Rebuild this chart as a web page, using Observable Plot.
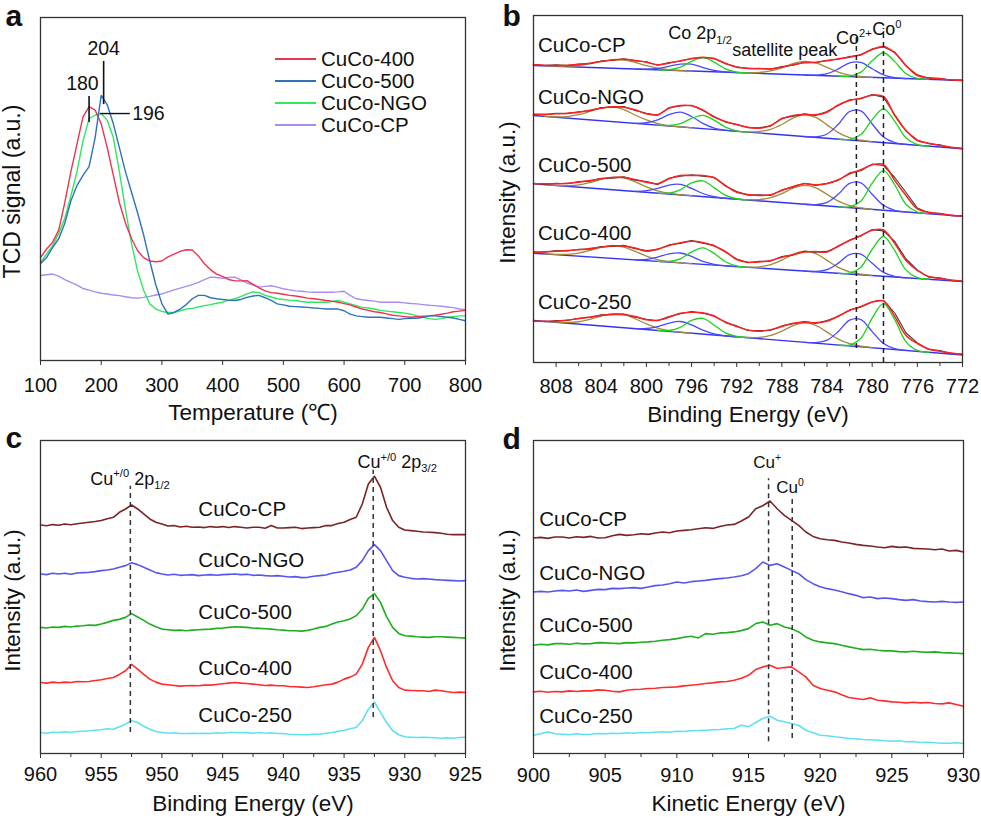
<!DOCTYPE html>
<html><head><meta charset="utf-8">
<script src="https://cdn.jsdelivr.net/npm/d3@7"></script>
<script src="https://cdn.jsdelivr.net/npm/@observablehq/plot@0.6"></script>
<style>
body{margin:0;background:#fff;overflow:hidden;}
#fig{position:relative;width:981px;height:820px;font-family:'Liberation Sans',Arial,Helvetica,sans-serif;color:#111;}
#fig svg{position:absolute;}
.leg{position:absolute;font-size:20.5px;}
.leg div{height:21.8px;display:flex;align-items:center;}
.leg span.sw{display:inline-block;width:41px;height:2px;margin-right:5px;}
</style></head><body><div id="fig"></div>
<script>
// ---------------- Panel a: H2-TPR ----------------
const tempA = [100,110,120,130,140,150,160,170,180,190,200,210,220,230,240,250,260,270,280,290,300,310,320,330,340,350,360,370,380,390,400,410,420,430,440,450,460,470,480,490,500,510,520,530,540,550,560,570,580,590,600,610,620,630,640,650,660,670,680,690,700,710,720,730,740,750,760,770,780,790,800];
const seriesA = ["CuCo-400","CuCo-500","CuCo-NGO","CuCo-CP"];
const colorsA = ["#ee3352","#2f72b8","#2ee860","#a98cf0"];
const tcd400 = [30,32.5,34.5,38,46,55,63,71,74,73,69,62,54,46,40,35.5,32,30,29,28.8,29,30.2,31,31.8,32.3,32.2,30.5,28.2,26.5,25.2,24.5,23.6,23.2,23.2,23.3,22.2,21.2,20.3,19.8,19.6,19.3,19,18.8,18.5,18.2,18,17.8,17.5,17.3,17,16.6,16.2,15.6,15,14.6,14.2,14,13.6,13.2,13,12.8,12.6,12.8,12.9,13,13.2,13.5,13.8,14.2,14.4,14.6];
const tcd500 = [28.2,30,33,35.5,40,46.5,51,54,56.5,65,77.3,74.5,69,62,55,49,43,36.5,29,22,16.5,13.5,14,15,16.3,18,19,19,18.3,18,17.8,17.6,17.5,17.8,18.4,18.8,19,18.3,17.5,16.5,16.2,15.8,15.7,15.6,15.5,15.3,15.2,15,15,15,14.5,13.5,13,12.8,12.6,12.6,12.6,12.4,12.2,12,12.2,12.3,12.3,12.6,13,13,12.8,12.6,12.4,12,11.6];
const tcdNGO = [28.6,31,33.5,37,41.5,48,55,64,70.5,71.5,72,70,65,55,44,34,26,20.4,16.5,15,14.3,14,14,14.5,15,15.2,15.6,16,16.3,16.7,17,17.6,18,18.6,19.4,20,19.8,19,18.5,18,17.8,17.6,17.5,17.2,17,17,17,17,17.2,17.5,17,16.5,16,15.5,15.3,15,14.6,14.4,14.2,14,13.8,13.5,13,12.6,12.2,12,12.2,12.6,12.8,13,13];
const tcdCP = [24.8,25,25.2,24.6,23.6,22.8,22,21,20.5,20,19.6,19.4,19.1,18.9,18.6,18.3,18.2,18.4,18.7,19.1,19.4,20,20.6,21.1,21.6,22.1,22.8,23.6,24.3,24.2,24,24.2,24.3,23.5,22.6,22,21.4,21.6,21.8,21.4,20.9,20.6,20.3,20.2,20,19.9,19.9,19.9,19.9,20,20.2,19,18,17.7,17.5,17.3,17,17,17,17,16.8,16.6,16.5,16.3,16.1,16,15.8,15.6,15.4,15,14.8];
const ticksA = [100,200,300,400,500,600,700,800];
// peak annotations: marker lines and labels
const peakLineT = [180, 204], peakLineLo = [69.4, 74.6], peakLineHi = [77, 87.2];
const peakTextC = ["180","204"], peakTextT = [169, 204], peakTextV = [80.8, 91];
const peak196 = {label: "196", T1: 199, T2: 248, v: 72, textT: 251};

// ---------------- Panel b: Co 2p XPS ----------------
const eB = [810,809,808,807,806,805,804,803,802,801,800,799,798,797,796,795,794,793,792,791,790,789,788,787,786,785,784,783,782,781,780,779,778,777,776,775,774,773,772];
const samplesB = ["CuCo-CP","CuCo-NGO","CuCo-500","CuCo-400","CuCo-250"];
const envB = [
 [297.7,297.3,297.0,297.3,298.0,299.3,301.0,302.7,303.3,302.0,300.3,297.7,299.3,301.7,303.7,305.3,303.7,299.3,295.3,294.3,293.7,293.7,295.3,297.7,299.7,300.3,301.7,303.7,305.3,308.0,313.0,316.0,309.7,297.0,287.0,284.7,283.7,282.7,282.0],
 [248.0,248.3,248.7,249.3,250.3,252.3,254.3,255.7,255.3,252.7,248.7,247.7,254.3,257.0,256.7,252.7,245.3,241.0,237.7,235.3,234.3,237.0,243.7,247.0,248.0,247.7,250.3,257.7,262.0,264.3,267.3,266.0,247.0,232.0,222.0,219.3,217.0,215.3,213.7],
 [178.7,178.7,178.7,179.3,180.3,182.0,183.7,185.0,185.0,183.0,180.3,178.7,183.7,187.0,187.0,187.0,184.7,177.0,170.3,168.0,167.0,167.7,172.0,176.0,178.7,177.7,178.7,182.7,188.7,192.7,197.7,198.0,182.0,167.0,153.7,150.3,148.7,147.3,146.3],
 [110.3,110.8,111.3,112,112.7,114,115.3,116.7,116.5,114.5,111.3,113.5,117,119.7,121.3,120,116.5,111,103,100.3,100.5,102,105.3,108,110.5,111,110.5,116.5,122,127,132.3,132.5,119,102,92,86,84,82.5,81],
 [41.3,41.3,41.3,42.5,43.7,45.5,47,48.3,47.8,46,42.7,42.3,45.3,49.3,50.3,49.8,46.3,40.5,36,32.5,31.3,32.7,36,39.3,40.3,39.7,41.3,46.5,52,56,60.5,61.5,46,27,19,13.5,11.3,9.5,8]
];
const rawB = [
 [298.2,297.0,297.6,296.9,298.4,299.0,301.5,302.2,303.8,301.6,300.8,297.2,299.9,301.2,304.2,305.0,304.3,298.8,295.8,293.9,294.2,293.2,295.9,297.2,300.3,299.8,302.3,303.2,306.0,307.4,313.6,315.5,310.4,296.4,287.6,284.2,284.3,282.2,282.5],
 [248.5,247.8,249.2,248.9,250.8,251.8,254.9,255.2,255.9,252.1,249.3,247.1,254.9,256.5,257.3,252.1,245.9,240.4,238.2,234.8,234.9,236.4,244.3,246.4,248.6,247.1,250.9,257.1,262.7,263.7,267.9,265.4,247.8,231.4,222.6,218.8,217.6,214.8,214.2],
 [179.2,178.1,179.3,178.8,180.9,181.4,184.3,184.4,185.6,182.4,180.9,178.1,184.3,186.4,187.6,186.4,185.3,176.4,170.9,167.4,167.6,167.1,172.6,175.4,179.3,177.1,179.3,182.1,189.6,191.8,198.4,197.0,185.0,170.0,154.4,149.7,149.3,146.8,146.8],
 [110.8,110.2,111.9,111.5,113.2,113.4,115.9,116.1,117.1,113.9,111.9,112.9,117.6,119.1,121.9,119.4,117.1,110.4,103.6,99.7,101.1,101.4,105.9,107.4,111.1,110.4,111.1,115.9,122.6,126.4,132.9,131.6,121.0,103.5,92.6,85.4,84.6,82.0,81.5],
 [41.8,40.7,41.9,42.0,44.2,45.0,47.6,47.8,48.4,45.4,43.3,41.7,45.9,48.8,50.9,49.2,46.9,39.9,36.6,32.0,31.9,32.2,36.6,38.7,40.9,39.1,41.9,46.0,52.6,55.4,60.6,62.2,49.5,29.5,19.6,13.0,11.9,9.0,8.5]
];
// linear background: value at 810 eV and at 772 eV
const bgLeftB = [297, 247, 178.7, 109.3, 42];
const bgRightB = [282, 213.7, 146.3, 81, 7.5];
// fitted components: heights above background, starting energy, 1 eV steps downward
const sat1Start = 809, co2aStart = 801, co0aStart = 799, sat2Start = 792, co2bStart = 786, co0bStart = 783;
const sat1B = [
 [0,0.1,0.5,1.6,3.7,6.4,8.1,8.6,6.6,3.8,1.6,0.5,0.1,0],
 [0,0.4,1.6,4.3,8.4,12.8,14.7,12.8,8.4,4.3,1.6,0.4,0.1,0],
 [0,0.2,0.8,2.3,5.5,9.5,12.4,12.7,9.6,5.5,2.3,0.8,0.2,0],
 [0,0.3,1.1,3,6.5,10.5,12.9,12,8.5,4.6,1.8,0.6,0.1,0],
 [0,0.2,0.8,2.4,5.7,9.9,13,13.4,9.9,5.7,2.4,0.8,0.2,0]
];
const co2aB = [
 [0,0.3,1.4,3.9,6.5,6.8,3.9,1.4,0.3,0],
 [0,1.5,5.3,11.3,14.7,11.3,5.3,1.5,0.3,0],
 [0,1.6,4.8,9,10.5,7.4,3.1,0.8,0.1,0],
 [0,1.3,4.3,8.2,9.9,7.2,3,0.8,0.1,0],
 [0,1.1,3.9,8.3,10.8,8.3,3.9,1.1,0.2,0]
];
const co0aB = [
 [0,0.5,3.4,9.7,13.7,9.7,3.4,0.5,0],
 [0,0.5,3.3,9.4,13.3,9.4,3.3,0.5,0],
 [0,0.9,5,12.8,15.7,9.8,3,0.4,0],
 [0,0.7,4.1,11.7,16.5,11.7,4.1,0.7,0],
 [0,0.9,5,12.8,15.7,9.8,3,0.4,0]
];
const sat2B = [
 [0,0.2,0.9,2.9,6.4,11,13.6,12.5,8.4,4.1,1.5,0.4,0],
 [0,0.3,1.5,4.6,10.3,17.6,21.8,20,13.4,6.6,2.4,0.7,0],
 [0,0.3,1.3,4,8.9,15.2,18.8,17.3,11.6,5.7,2.1,0.6,0],
 [0,0.3,1.3,4.2,9.4,16,19.8,18.2,12.2,6,2.2,0.6,0],
 [0,0.3,1.3,4.1,9.3,15.8,19.5,17.9,12,5.9,2.2,0.6,0]
];
const co2bB = [
 [0,0.3,2.1,7.2,13.8,14.5,8.6,2.8,0.5,0],
 [0,0.6,4.3,14.9,28.5,30.1,17.8,5.7,1,0],
 [0,0.5,3.6,12.7,24.3,25.7,15.1,4.9,0.8,0],
 [0,0.4,2.9,10.2,19.5,20.6,12.2,3.9,0.7,0],
 [0,0.6,3.9,13.5,25.8,27.3,16.1,5.2,0.9,0]
];
const co0bB = [
 [0,0.5,4.8,16.5,25,16.5,4.8,0.5,0],
 [0,0.7,6.4,22.2,33.7,22.2,6.4,0.7,0],
 [0,0.8,7.5,26.2,39.7,26.2,7.5,0.8,0],
 [0,0.8,7.6,26.3,39.8,26.3,7.6,0.8,0],
 [0,0.9,8.6,29.7,45,29.7,8.6,0.9,0]
];
const labelYB = [317, 265.3, 197, 129, 60.3];
const labelEB = 809.6;
const ticksB = [808,804,800,796,792,788,784,780,776,772];
const minorB = [806,802,798,794,790,786,782,778,774];
const dashB = [{E: 781.4, lo: 14, hi: 329}, {E: 779.0, lo: 0, hi: 334}];
const notesB = [
 {t: "Co 2p_{1/2}", E: 798.06, v: 329},
 {t: "satellite peak", E: 792.4, v: 312},
 {t: "Co^{2+}", E: 783.2, v: 324},
 {t: "Co^{0}", E: 780.0, v: 333}
];

// ---------------- Panel c: Cu 2p XPS ----------------
const eC = [960,959.5,959,958.5,958,957.5,957,956.5,956,955.5,955,954.5,954,953.5,953,952.5,952,951.5,951,950.5,950,949.5,949,948.5,948,947.5,947,946.5,946,945.5,945,944.5,944,943.5,943,942.5,942,941.5,941,940.5,940,939.5,939,938.5,938,937.5,937,936.5,936,935.5,935,934.5,934,933.5,933,932.5,932,931.5,931,930.5,930,929.5,929,928.5,928,927.5,927,926.5,926,925.5,925];
const samplesC = ["CuCo-CP","CuCo-NGO","CuCo-500","CuCo-400","CuCo-250"];
const colorsCD = ["#7a2424","#5656ee","#1fae1f","#ff2b2b","#5fe0f2"];
const cuC = [
 [228.3,227.5,228.7,228,229.3,228.5,229.5,230.3,231,231.7,232.7,234.5,236,241,244.3,248.3,244.3,239.3,234.3,231,229.3,227.3,227.7,226.3,227,226,226.3,225.7,226.7,226,226.7,225.7,226.7,226,225.3,226,226,225,227.7,225.3,225.3,225.7,226,224.7,225.3,225.7,226,227.7,227.7,229.7,231,233.7,236,249.3,269.3,277,266,246,232.7,226,223.3,222.7,222,221.3,221,220.7,220,219,218.7,218.7,218.7],
 [179.3,178.7,180,179.3,180,179,180.3,180.7,181,181.7,182.7,183.3,184.3,186,187.7,190.5,188.7,186,183.3,180.7,179.3,178.3,179,178,178.3,178.7,177.7,178.3,178.7,178,178.7,179,179.3,178.7,179,178,178.3,177.7,177.3,177.7,177,176.3,176.7,175.7,176,177,177.7,178.3,180,181,182,183.3,186,192.7,202.7,208.7,202.7,192.7,182.7,177.7,176,175,174.3,174.7,174.3,173.7,173.3,173,172.7,172.3,172.7],
 [126,125.3,126.3,126,127,126.3,127.3,127.7,128.3,128,129.3,131,133,134,136,139.7,136.3,133,129.3,126.7,124.3,123.7,123,123.3,122.7,123.3,123.7,124,124.3,125,125.3,126,126.7,126.3,126,125.3,125,124.7,124.3,123.7,123.3,122.7,122.7,122.3,123,124.3,126,127,129.3,131.3,132.7,134.3,137.7,144.3,155,159.7,151,136.7,126,120,117.7,117.3,116.7,116.3,116,116.7,116.7,116.3,116,115.7,115.3],
 [71,70.3,71.3,70.7,71.3,71,72,71.7,72,73,73.7,75,76,79,82.7,89,84.3,79,74.3,71.3,69.3,68.7,68,67.3,67.7,68,67.7,68.3,68.3,69,69.7,70.3,71,70.3,70,69.3,68.7,68,68.3,67.7,67.7,67,66.7,66.3,66,66.7,67.7,68.7,69.3,71.3,74.3,76.3,79.3,89.3,106,116,102.7,86,72.7,66,63.3,63,62.7,62.7,62,63.3,62.7,61.7,61,61.3,61],
 [21,20.3,21.3,21,21.7,21,22,22.3,22.7,23.3,23.7,24.7,24.3,26.7,29.3,32.7,31,27.3,24.3,22,21,20.3,20.7,20,20,20.3,20,20.3,20,20.7,20.3,21,21,20.7,21,20.3,21,20.3,20.7,20,20,19.3,19,18.7,18.7,19.3,19.3,20.3,21,22.3,23.3,24.7,26,32.7,44.3,51.3,41,31,22.7,18.7,16.7,16.3,16,16.3,16,15.7,15.3,15.7,15.3,16,16.3]
];
const labelYC = [244.3, 193.3, 141, 85, 37.7];
const labelEC = 947.0;
const ticksC = [960,955,950,945,940,935,930,925];
const minorC = [957.5,952.5,947.5,942.5,937.5,932.5,927.5];
const dashC = [{E: 952.6, lo: 21, hi: 267}, {E: 932.6, lo: 36, hi: 283}];
const notesC = [
 {t: "Cu^{+/0} 2p_{1/2}", E: 955.9, v: 274.3},
 {t: "Cu^{+/0} 2p_{3/2}", E: 933.9, v: 291}
];

// ---------------- Panel d: Cu LMM Auger ----------------
const eD = [900,900.5,901,901.5,902,902.5,903,903.5,904,904.5,905,905.5,906,906.5,907,907.5,908,908.5,909,909.5,910,910.5,911,911.5,912,912.5,913,913.5,914,914.5,915,915.5,916,916.5,917,917.5,918,918.5,919,919.5,920,920.5,921,921.5,922,922.5,923,923.5,924,924.5,925,925.5,926,926.5,927,927.5,928,928.5,929,929.5,930];
const cuD = [
 [215.7,216.3,215.3,216.7,216.7,215.7,217,216.3,217.3,215.7,216,218,219.3,218.3,219,220,219.3,220.7,221.7,221,222.7,223.3,224,225,226,225.3,227.3,228.7,229.3,232.7,236.7,245,248,252.7,245,238.3,233.3,228.3,221.7,217.3,215,214,213.3,211.7,210.7,209.3,208.3,207.7,206.7,206,207.3,206.3,206.7,205.3,205,204.7,204,204.7,202.7,203.3,201.7],
 [161.7,162.3,161.7,162.7,163.3,162.7,163.7,162.3,163.3,164.3,164,165.3,165,165.7,166,165.3,166.7,168,168.7,170,171.7,170.7,172,172.7,173.3,174.3,175,175.7,176.7,178,180,185,191.7,188.3,190,186.7,183.3,180,174,170,167,165,163.7,162,160,158.3,156,156.7,155,155.7,155,154,153.3,154,152.7,152,151.7,152.3,151.7,151.3,151.7],
 [108.3,109.3,108.7,110,110,109.3,110.3,109.7,110,111,110.7,110.3,110,111,110.7,111.3,111.7,112.3,113.3,114,115,116.3,117.3,115.7,120,119.3,120.7,121,121.7,123,125,130,131.7,128.3,130,126.7,125,121.7,116.7,113.3,111.7,110.7,110,108.3,106.7,105.3,104,104.3,103.3,102.7,102.7,102,101.7,102.3,101.7,101.3,101.7,101,100.7,100.3,100],
 [61.7,62.3,61.3,62,61.7,62.7,62,62.7,62.7,63.7,63.3,62.3,61.7,63.3,64,64.3,65,65.3,66,66.3,66.7,67.7,68.3,69,70,70.7,71.7,72,73.3,75.3,78.3,84,86.7,88.3,85,86,86.7,81.7,76.7,68.3,65,63.3,61.7,58.7,56,55,54,55.7,53.3,52.7,51.7,51.3,50.7,51.3,50.7,51,50,49.7,50.7,49,47.3],
 [18.3,19.7,21.7,19.7,19.3,18.7,19.7,19,19.3,20,19.7,20.3,20,20.7,20.3,21,20.7,21.3,21.7,21.3,22.3,22,22.7,23,23.3,23.7,24,24.7,25,28.3,26.7,31,35,37.3,33.3,31.7,30,28.3,23.3,20.7,18.3,17.7,16.7,16,15,14.7,14,13.7,13.3,12.7,12.3,12.7,11.7,12,11,11.3,10.7,10.3,10.3,10.7,10]
];
const labelYD = [234, 180, 128.3, 80.7, 37.3];
const labelED = 900.4;
const ticksD = [900,905,910,915,920,925,930];
const minorD = [902.5,907.5,912.5,917.5,922.5,927.5];
const dashD = [{E: 916.4, lo: 11.7, hi: 275}, {E: 918.05, lo: 15, hi: 256}];
const notesD = [{t: "Cu^{+}", E: 916.3, v: 291.7}, {t: "Cu^{0}", E: 917.9, v: 266}];

// ---------------- rendering ----------------
const FONT = "'Liberation Sans', Arial, Helvetica, sans-serif";
const baseStyle = {fontFamily: FONT, background: "transparent", overflow: "visible", color: "#111"};
const fig = document.getElementById("fig");

function richify(svg) {
  svg.querySelectorAll("text").forEach(t => {
    const s = t.textContent;
    if (!/[\^_]\{/.test(s)) return;
    const fs = parseFloat(getComputedStyle(t).fontSize) || 18;
    while (t.firstChild) t.removeChild(t.firstChild);
    const re = /([\^_])\{([^}]*)\}/g;
    let last = 0, m, shift = 0;
    const add = (str, kind) => {
      const ts = document.createElementNS("http://www.w3.org/2000/svg", "tspan");
      ts.textContent = str;
      const target = kind === "^" ? -0.4 * fs : kind === "_" ? 0.25 * fs : 0;
      if (target - shift !== 0) ts.setAttribute("dy", (target - shift).toFixed(2));
      shift = target;
      if (kind) ts.setAttribute("font-size", (0.62 * fs).toFixed(1));
      t.appendChild(ts);
    };
    while ((m = re.exec(s))) {
      if (m.index > last) add(s.slice(last, m.index), null);
      add(m[2], m[1]);
      last = re.lastIndex;
    }
    if (last < s.length) add(s.slice(last), null);
  });
}
function place(svg, left, top) {
  svg.style.left = left + "px";
  svg.style.top = top + "px";
  fig.appendChild(svg);
  richify(svg);
}
function frameMarks(letter, xTitle, yTitle, o) {
  return [
    Plot.frame({stroke: "#333", strokeWidth: 1.3}),
    Plot.text([letter], {frameAnchor: "top-left", dx: o.ldx, dy: o.ldy, textAnchor: "start", lineAnchor: "bottom", fontSize: 30, fontWeight: "bold", fill: "#111"}),
    Plot.text([xTitle], {frameAnchor: "bottom", dy: o.xdy, textAnchor: "middle", lineAnchor: "middle", fontSize: 22.5, fill: "#111"}),
    Plot.text([yTitle], {frameAnchor: "left", rotate: -90, dx: o.ydx, dy: o.ydy, textAnchor: "middle", lineAnchor: "middle", fontSize: o.yfs || 22.5, fill: "#111"})
  ];
}

// Panel a
const rowsA = [3, 2, 0, 1].flatMap(k => tempA.map((T, i) => ({T, v: [tcd400, tcd500, tcdNGO, tcdCP][k][i], s: seriesA[k]})));
const plotA = Plot.plot({
  width: 490, height: 430, marginLeft: 40, marginRight: 25, marginTop: 17, marginBottom: 70,
  style: baseStyle,
  x: {domain: [100, 800], label: null},
  y: {domain: [0, 100], axis: null},
  color: {domain: seriesA, range: colorsA},
  marks: [
    Plot.line(rowsA, {x: "T", y: "v", z: "s", stroke: "s", strokeWidth: 1.4}),
    Plot.ruleX(peakLineT, {x: d => d, y1: (d, i) => peakLineLo[i], y2: (d, i) => peakLineHi[i], stroke: "#111", strokeWidth: 1.6}),
    Plot.ruleY([peak196], {y: "v", x1: "T1", x2: "T2", stroke: "#111", strokeWidth: 1.4}),
    Plot.text(peakTextC, {x: peakTextT, y: peakTextV, text: d => d, fontSize: 19.5, fill: "#111"}),
    Plot.text([peak196], {x: "textT", y: "v", text: "label", textAnchor: "start", fontSize: 19.5, fill: "#111"}),
    Plot.axisX({ticks: ticksA, tickSize: 5, tickPadding: 12, fontSize: 20, label: null, stroke: "#333", fill: "#111"}),
    ...frameMarks("a", "Temperature (\u2103)", "TCD signal (a.u.)", {ldx: -35, ldy: 8, xdy: 52, ydx: -28, ydy: 2.5, yfs: 23})
  ]
});
place(plotA, 0, 0);
const leg = document.createElement("div");
leg.className = "leg";
leg.style.left = "275px"; leg.style.top = "48.5px";
seriesA.forEach((s, k) => {
  const row = document.createElement("div");
  row.innerHTML = `<span class="sw" style="background:${colorsA[k]}"></span><span>${s}</span>`;
  leg.appendChild(row);
});
fig.appendChild(leg);

// Panel b
const bgB = (k, E) => bgLeftB[k] + (bgRightB[k] - bgLeftB[k]) * (eB[0] - E) / (eB[0] - eB[eB.length - 1]);
const envRows = samplesB.flatMap((s, k) => eB.map((E, i) => ({E, v: envB[k][i], s})));
const rawRows = samplesB.flatMap((s, k) => eB.map((E, i) => ({E, v: rawB[k][i], s})));
const bgRows = samplesB.flatMap((s, k) => [eB[0], eB[eB.length - 1]].map(E => ({E, v: bgB(k, E), s})));
const compDefs = [
  {n: "sat1", start: sat1Start, h: sat1B, c: "#a48a3a"},
  {n: "sat2", start: sat2Start, h: sat2B, c: "#a48a3a"},
  {n: "co2a", start: co2aStart, h: co2aB, c: "#4848ff"},
  {n: "co2b", start: co2bStart, h: co2bB, c: "#4848ff"},
  {n: "co0a", start: co0aStart, h: co0aB, c: "#1fd21f"},
  {n: "co0b", start: co0bStart, h: co0bB, c: "#1fd21f"}
];
const compRows = compDefs.flatMap(cd => samplesB.flatMap((s, k) => cd.h[k].map((h, i) => {
  const E = cd.start - i;
  return {E, v: bgB(k, E) + h, g: cd.n + s, c: cd.c};
})));
const plotB = Plot.plot({
  width: 491, height: 430, marginLeft: 43, marginRight: 19, marginTop: 15, marginBottom: 68,
  style: baseStyle,
  x: {domain: [810, 772], label: null},
  y: {domain: [0, 347], axis: null},
  color: {type: "identity"},
  marks: [
    Plot.line(bgRows, {x: "E", y: "v", z: "s", stroke: "#3434f0", strokeWidth: 1.4}),
    Plot.line(compRows, {x: "E", y: "v", z: "g", stroke: "c", strokeWidth: 1.3, curve: "catmull-rom"}),
    Plot.line(rawRows, {x: "E", y: "v", z: "s", stroke: "#3a3a3a", strokeWidth: 1.1}),
    Plot.line(envRows, {x: "E", y: "v", z: "s", stroke: "#ff2020", strokeWidth: 1.5, curve: "catmull-rom"}),
    Plot.ruleX(dashB, {x: "E", y1: "lo", y2: "hi", stroke: "#222", strokeWidth: 1.5, strokeDasharray: "5,4"}),
    Plot.text(samplesB, {x: () => labelEB, y: (d, i) => labelYB[i], text: d => d, textAnchor: "start", fontSize: 20.5, fill: "#111"}),
    Plot.text(notesB, {x: "E", y: "v", text: "t", textAnchor: "start", fontSize: 18, fill: "#111"}),
    Plot.axisX({ticks: minorB, tickSize: 4, tickFormat: () => "", label: null, stroke: "#333"}),
    Plot.axisX({ticks: ticksB, tickSize: 5, tickPadding: 11, fontSize: 20, label: null, stroke: "#333", fill: "#111"}),
    ...frameMarks("b", "Binding Energy (eV)", "Intensity (a.u.)", {ldx: -31, ldy: 10, xdy: 52, ydx: -26, ydy: 3.5})
  ]
});
place(plotB, 490, 0);

// Panel c
const rowsC = samplesC.flatMap((s, k) => eC.map((E, i) => ({E, v: cuC[k][i], s})));
const plotC = Plot.plot({
  width: 490, height: 410, marginLeft: 40, marginRight: 25, marginTop: 30, marginBottom: 67,
  style: baseStyle,
  x: {domain: [960, 925], label: null},
  y: {domain: [0, 312.7], axis: null},
  color: {domain: samplesC, range: colorsCD},
  marks: [
    Plot.line(rowsC, {x: "E", y: "v", z: "s", stroke: "s", strokeWidth: 1.6}),
    Plot.ruleX(dashC, {x: "E", y1: "lo", y2: "hi", stroke: "#333", strokeWidth: 1.5, strokeDasharray: "5,4"}),
    Plot.text(samplesC, {x: () => labelEC, y: (d, i) => labelYC[i], text: d => d, textAnchor: "start", fontSize: 20.5, fill: "#111"}),
    Plot.text(notesC, {x: "E", y: "v", text: "t", textAnchor: "start", fontSize: 18, fill: "#111"}),
    Plot.axisX({ticks: minorC, tickSize: 4, tickFormat: () => "", label: null, stroke: "#333"}),
    Plot.axisX({ticks: ticksC, tickSize: 5, tickPadding: 8, fontSize: 20, label: null, stroke: "#333", fill: "#111"}),
    ...frameMarks("c", "Binding Energy (eV)", "Intensity (a.u.)", {ldx: -35, ldy: 7, xdy: 50, ydx: -28, ydy: 3.5})
  ]
});
place(plotC, 0, 410);

// Panel d
const rowsD = samplesC.flatMap((s, k) => eD.map((E, i) => ({E, v: cuD[k][i], s})));
const plotD = Plot.plot({
  width: 491, height: 410, marginLeft: 43, marginRight: 18, marginTop: 30, marginBottom: 67,
  style: baseStyle,
  x: {domain: [900, 930], label: null},
  y: {domain: [0, 313.3], axis: null},
  color: {domain: samplesC, range: colorsCD},
  marks: [
    Plot.line(rowsD, {x: "E", y: "v", z: "s", stroke: "s", strokeWidth: 1.6}),
    Plot.ruleX(dashD, {x: "E", y1: "lo", y2: "hi", stroke: "#333", strokeWidth: 1.5, strokeDasharray: "5,4"}),
    Plot.text(samplesC, {x: () => labelED, y: (d, i) => labelYD[i], text: d => d, textAnchor: "start", fontSize: 20.5, fill: "#111"}),
    Plot.text(notesD, {x: "E", y: "v", text: "t", fontSize: 17, fill: "#111"}),
    Plot.axisX({ticks: minorD, tickSize: 4, tickFormat: () => "", label: null, stroke: "#333"}),
    Plot.axisX({ticks: ticksD, tickSize: 5, tickPadding: 9, fontSize: 20, label: null, stroke: "#333", fill: "#111"}),
    ...frameMarks("d", "Kinetic Energy (eV)", "Intensity (a.u.)", {ldx: -31, ldy: 8, xdy: 50, ydx: -26, ydy: 3.5})
  ]
});
place(plotD, 490, 410);
</script></body></html>
